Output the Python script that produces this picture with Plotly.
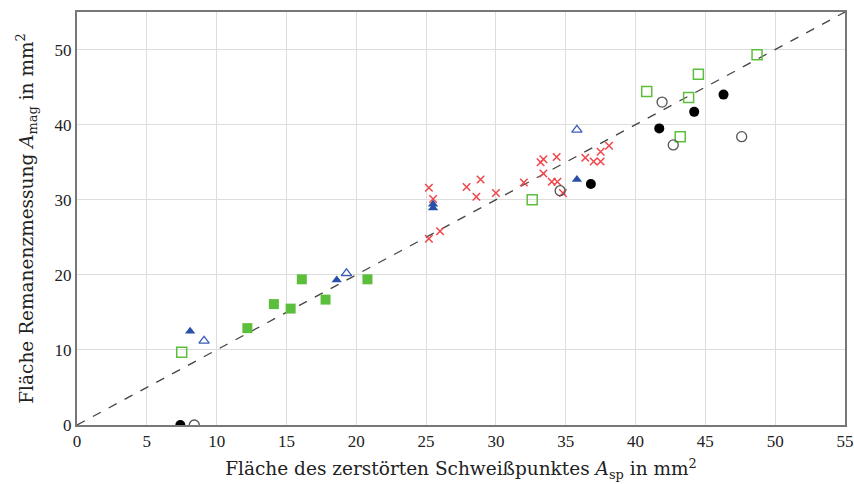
import plotly.graph_objects as go

# Data series (x = Fläche Schweißpunkt, y = Fläche Remanenzmessung)
black_filled_x = [7.4, 36.8, 41.7, 44.2, 46.3]
black_filled_y = [0.0, 32.1, 39.5, 41.7, 44.0]

black_open_x = [8.4, 34.6, 41.9, 42.7, 47.6]
black_open_y = [0.0, 31.2, 43.0, 37.3, 38.4]

green_open_x = [7.5, 32.6, 40.8, 43.2, 43.8, 44.5, 48.7]
green_open_y = [9.7, 30.0, 44.4, 38.4, 43.6, 46.7, 49.3]

green_filled_x = [12.2, 14.1, 15.3, 16.1, 17.8, 20.8]
green_filled_y = [12.9, 16.1, 15.5, 19.4, 16.7, 19.4]

blue_filled_x = [8.1, 18.6, 25.5, 25.5, 35.8]
blue_filled_y = [12.5, 19.3, 28.9, 29.4, 32.7]

blue_open_x = [9.1, 19.3, 35.8]
blue_open_y = [11.2, 20.2, 39.3]

red_cross_x = [25.2, 25.5, 25.2, 26.0, 27.9, 28.6, 28.9, 30.0, 32.0, 33.2, 33.4,
               33.4, 34.35, 34.0, 34.4, 34.8, 36.4, 37.0, 37.5, 37.5, 38.1]
red_cross_y = [31.6, 30.1, 24.8, 25.8, 31.7, 30.4, 32.7, 30.9, 32.3, 35.0, 35.4,
               33.5, 35.7, 32.4, 32.4, 30.9, 35.6, 35.1, 35.1, 36.4, 37.2]

diag_x = [0, 55]
diag_y = [0, 55]

x_ticks = [0, 5, 10, 15, 20, 25, 30, 35, 40, 45, 50, 55]
y_ticks = [0, 10, 20, 30, 40, 50]

FONT = "Liberation Serif"
TFONT = "DejaVu Serif"

fig = go.Figure()

fig.add_trace(go.Scatter(x=diag_x, y=diag_y, mode="lines",
                         line=dict(color="#444444", width=1.3, dash="dash"),
                         hoverinfo="skip"))

fig.add_trace(go.Scatter(x=red_cross_x, y=red_cross_y, mode="markers",
                         marker=dict(symbol="x-thin", size=7.5,
                                     line=dict(color="#f0454a", width=1.5))))

fig.add_trace(go.Scatter(x=green_filled_x, y=green_filled_y, mode="markers",
                         marker=dict(symbol="square", size=10, color="#5cbf3c",
                                     line=dict(width=0))))

fig.add_trace(go.Scatter(x=green_open_x, y=green_open_y, mode="markers",
                         marker=dict(symbol="square-open", size=10, color="#5cbf3c",
                                     line=dict(width=1.5))))

fig.add_trace(go.Scatter(x=blue_filled_x, y=blue_filled_y, mode="markers",
                         marker=dict(symbol="triangle-up", size=9, color="#2a4fa8",
                                     line=dict(width=0))))

fig.add_trace(go.Scatter(x=blue_open_x, y=blue_open_y, mode="markers",
                         marker=dict(symbol="triangle-up-open", size=9, color="#3a5cb8",
                                     line=dict(width=1.3))))

fig.add_trace(go.Scatter(x=black_filled_x, y=black_filled_y, mode="markers",
                         marker=dict(symbol="circle", size=10, color="#000000",
                                     line=dict(width=0))))

fig.add_trace(go.Scatter(x=black_open_x, y=black_open_y, mode="markers",
                         marker=dict(symbol="circle-open", size=10, color="#555555",
                                     line=dict(width=1.3))))

fig.update_layout(
    width=854, height=484,
    margin=dict(l=77, r=9, t=12, b=59),
    paper_bgcolor="white", plot_bgcolor="white",
    showlegend=False,
    font=dict(family=FONT, size=17, color="#222222"),
)

fig.update_xaxes(
    range=[0, 55], tickvals=x_ticks, ticktext=[str(v) for v in x_ticks],
    showgrid=True, gridcolor="#dddddd", gridwidth=1,
    showline=True, linecolor="#777777", linewidth=2, mirror=True,
    zeroline=False, ticks="", ticklen=0, automargin=False,
    title=dict(text="Fläche des zerstörten Schweißpunktes <i>A</i><sub>sp</sub> in mm<sup>2</sup>",
               font=dict(family=TFONT, size=18.5), standoff=12),
)
fig.update_yaxes(
    range=[0, 55], tickvals=y_ticks, ticktext=[str(v) for v in y_ticks],
    showgrid=True, gridcolor="#dddddd", gridwidth=1,
    showline=True, linecolor="#777777", linewidth=2, mirror=True,
    zeroline=False, ticks="", ticklen=0, automargin=False,
    title=dict(text="Fläche Remanenzmessung <i>A</i><sub>mag</sub> in mm<sup>2</sup>",
               font=dict(family=TFONT, size=18.5), standoff=16),
)

fig.write_html("out.html", config={"displayModeBar": False},
               post_script="document.body.style.margin='0';")
